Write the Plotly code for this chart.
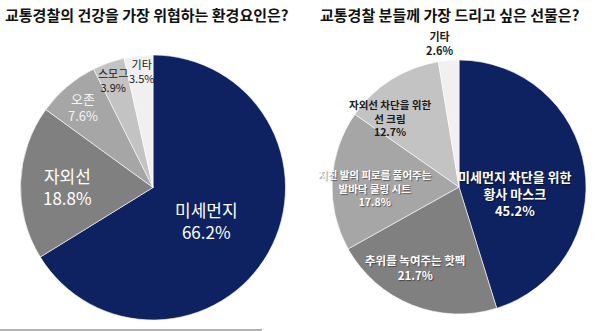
import plotly.graph_objects as go

W, H = 600, 331

# Left chart: environmental factors threatening traffic police health
left_labels = ["미세먼지", "자외선", "오존", "스모그", "기타"]
left_values = [66.2, 18.8, 7.6, 3.9, 3.5]
left_title = "교통경찰의 건강을 가장 위협하는 환경요인은?"

# Right chart: gifts people want to give traffic police
right_labels = ["미세먼지 차단을 위한<br>황사 마스크", "추위를 녹여주는 핫팩",
                "지친 발의 피로를 풀어주는<br>발바닥 쿨링 시트", "자외선 차단을 위한<br>선 크림", "기타"]
right_values = [45.2, 21.7, 17.8, 12.7, 2.6]
right_title = "교통경찰 분들께 가장 드리고 싶은 선물은?"

NAVY = "#0e2160"
slice_colors = [NAVY, "#808080", "#a6a6a6", "#c3c3c3", "#f0f0f0"]
FONT = "Noto Sans CJK KR"


def px_x(x):
    return x / W


def px_y(y):
    return 1 - y / H


fig = go.Figure()

fig.add_trace(go.Pie(
    labels=left_labels, values=left_values, sort=False, direction="clockwise",
    rotation=0, textinfo="none", hoverinfo="label+percent",
    marker=dict(colors=slice_colors, line=dict(color="white", width=0.6)),
    domain=dict(x=[px_x(20.5), px_x(285.5)], y=[px_y(320), px_y(55)]),
    showlegend=False,
))

fig.add_trace(go.Pie(
    labels=right_labels, values=right_values, sort=False, direction="clockwise",
    rotation=0, textinfo="none", hoverinfo="label+percent",
    marker=dict(colors=slice_colors, line=dict(color="white", width=0.6)),
    domain=dict(x=[px_x(332), px_x(586)], y=[px_y(314), px_y(60)]),
    showlegend=False,
))

# Label placement (pixel centres), font size and colour for each slice
left_label_style = [
    (207, 220, 17, "white"),
    (67, 186, 17, "white"),
    (83, 107, 13, "#f4f4f4"),
    (113, 80, 11, "#1a1a1a"),
    (141, 71, 11, "#1a1a1a"),
]
right_label_style = [
    (515, 193, 13, "white"),
    (415, 267, 11.5, "white"),
    (375, 188, 10.5, "white"),
    (390, 118, 10.5, "#1a1a1a"),
    (440, 43, 11, "#1a1a1a"),
]

annotations = []
for lab, val, (x, y, size, color) in zip(left_labels, left_values, left_label_style):
    annotations.append(dict(
        x=px_x(x), y=px_y(y), xref="paper", yref="paper", showarrow=False,
        xanchor="center", yanchor="middle",
        text=f"{lab}<br>{val:.1f}%", align="center",
        font=dict(family=FONT, size=size, color=color),
    ))
for lab, val, (x, y, size, color) in zip(right_labels, right_values, right_label_style):
    shadow = "1px 1px 1px rgba(0,0,0,0.45)" if color == "white" else "none"
    annotations.append(dict(
        x=px_x(x), y=px_y(y), xref="paper", yref="paper", showarrow=False,
        xanchor="center", yanchor="middle",
        text=f"{lab}<br>{val:.1f}%", align="center",
        font=dict(family=FONT, size=size, color=color, weight="bold", shadow=shadow),
    ))

annotations.append(dict(
    x=px_x(3), y=px_y(15), xref="paper", yref="paper", xanchor="left", yanchor="middle",
    showarrow=False, text=left_title,
    font=dict(family=FONT, size=15, color="#111111", weight="bold"),
))
annotations.append(dict(
    x=px_x(449), y=px_y(15), xref="paper", yref="paper", xanchor="center", yanchor="middle",
    showarrow=False, text=right_title,
    font=dict(family=FONT, size=15, color="#111111", weight="bold"),
))

fig.update_layout(
    width=W, height=H,
    margin=dict(l=0, r=0, t=0, b=0),
    paper_bgcolor="white", plot_bgcolor="white",
    annotations=annotations,
    shapes=[dict(type="line", xref="paper", yref="paper",
                 x0=0, x1=px_x(262), y0=px_y(330), y1=px_y(330),
                 line=dict(color="#999999", width=1.5))],
)

fig.write_html("out.html")
